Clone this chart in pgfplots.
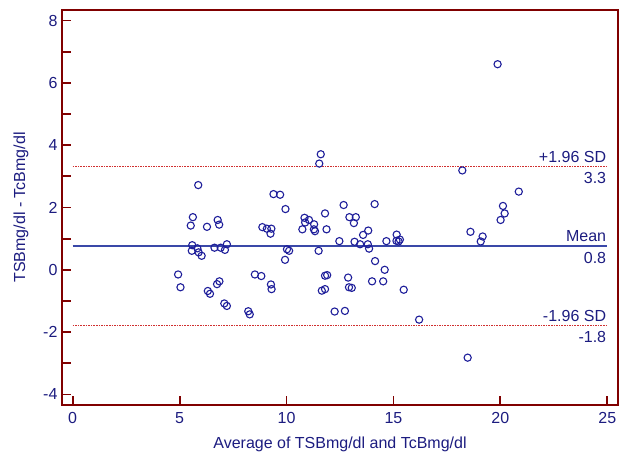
\documentclass[border=0pt]{standalone}
\usepackage{pgfplots}
\pgfplotsset{compat=1.18}
\usepackage{fontspec}
\setmainfont{Liberation Sans}
\definecolor{frame}{HTML}{800000}
\definecolor{navy}{HTML}{1C1C80}
\definecolor{mk}{HTML}{1E1E9A}
\definecolor{meanc}{HTML}{3A48A8}
\definecolor{sdc}{HTML}{D03030}
\pgfplotstableread{
x y
19.87 6.60
11.60 3.71
11.53 3.41
18.22 3.19
5.87 2.72
20.86 2.51
9.39 2.43
9.70 2.41
12.67 2.08
14.12 2.11
9.95 1.95
20.12 2.05
11.80 1.81
20.20 1.81
5.62 1.69
6.78 1.60
10.84 1.67
12.94 1.69
13.24 1.69
11.05 1.60
10.87 1.52
20.01 1.60
6.85 1.45
5.52 1.42
6.28 1.38
11.29 1.46
13.15 1.50
8.87 1.37
9.08 1.32
9.29 1.32
9.25 1.16
10.74 1.30
11.28 1.30
11.33 1.24
11.87 1.30
13.82 1.26
13.58 1.12
15.15 1.13
18.60 1.22
19.17 1.07
19.08 0.91
12.47 0.92
14.67 0.92
13.18 0.90
13.44 0.82
13.80 0.82
15.14 0.93
15.30 0.97
15.24 0.91
13.86 0.68
5.59 0.79
7.21 0.82
5.83 0.69
6.63 0.71
6.92 0.71
7.12 0.64
5.57 0.61
5.89 0.56
6.03 0.45
10.02 0.66
10.12 0.61
11.50 0.61
9.93 0.32
14.14 0.28
14.59 0.00
4.93 -0.15
5.04 -0.56
8.52 -0.15
8.82 -0.20
11.80 -0.19
11.90 -0.17
12.88 -0.25
9.27 -0.47
9.30 -0.62
6.86 -0.37
6.75 -0.46
6.32 -0.68
6.42 -0.77
11.65 -0.67
11.80 -0.62
12.92 -0.56
13.05 -0.58
14.00 -0.37
14.52 -0.37
15.48 -0.64
7.09 -1.08
7.21 -1.16
8.21 -1.33
8.28 -1.43
12.25 -1.34
12.73 -1.32
16.20 -1.60
18.47 -2.82
}\pts
\begin{document}
\begin{tikzpicture}
\begin{axis}[
  scale only axis, width=556pt, height=395pt,
  xmin=-0.5, xmax=25.5, ymin=-4.34, ymax=8.34,
  axis line style={draw=frame, line width=1.8pt},
  xtick={0,5,...,25}, ytick={-4,-2,...,8}, minor y tick num=1,
  xtick pos=bottom, ytick pos=left, tick align=inside,
  major tick length=9pt, minor tick length=9pt,
  every tick/.style={draw=frame, line width=1.8pt},
  /pgf/number format/assume math mode=true,
  tick label style={font=\fontsize{16}{19}\selectfont, text=navy},
  xticklabel style={yshift=-4pt},
  yticklabel style={xshift=-1pt},
  xlabel={Average of TSBmg/dl and TcBmg/dl},
  ylabel={TSBmg/dl - TcBmg/dl},
  label style={font=\fontsize{16}{19}\selectfont, text=navy},
  xlabel style={at={(axis description cs:0.5,0)}, anchor=center, yshift=-39pt},
  ylabel style={at={(axis description cs:-0.0737,0.5)}, anchor=center},
  clip=false,
]
\addplot[draw=sdc, line width=1.5pt, dash pattern=on 1.6pt off 1pt] coordinates {(0,3.32) (25,3.32)};
\addplot[draw=sdc, line width=1.5pt, dash pattern=on 1.6pt off 1pt] coordinates {(0,-1.79) (25,-1.79)};
\addplot[draw=meanc, line width=2.6pt] coordinates {(0,0.76) (25,0.76)};
\addplot[only marks, mark=o, mark size=3.6pt, mark options={draw=mk, line width=1.1pt}] table[x=x,y=y] {\pts};
\node[font=\fontsize{16}{19}\selectfont, text=navy, anchor=south east, inner sep=1pt] at (axis cs:25,3.32) [yshift=3pt] {+1.96 SD};
\node[font=\fontsize{16}{19}\selectfont, text=navy, anchor=north east, inner sep=1pt] at (axis cs:25,3.32) [yshift=-5pt] {3.3};
\node[font=\fontsize{16}{19}\selectfont, text=navy, anchor=south east, inner sep=1pt] at (axis cs:25,0.76) [yshift=3pt] {Mean};
\node[font=\fontsize{16}{19}\selectfont, text=navy, anchor=north east, inner sep=1pt] at (axis cs:25,0.76) [yshift=-5pt] {0.8};
\node[font=\fontsize{16}{19}\selectfont, text=navy, anchor=south east, inner sep=1pt] at (axis cs:25,-1.79) [yshift=3pt] {-1.96 SD};
\node[font=\fontsize{16}{19}\selectfont, text=navy, anchor=north east, inner sep=1pt] at (axis cs:25,-1.79) [yshift=-5pt] {-1.8};
\end{axis}
\pgfresetboundingbox
\path (-62pt,-51pt) rectangle (560pt,405pt);
\end{tikzpicture}
\end{document}
